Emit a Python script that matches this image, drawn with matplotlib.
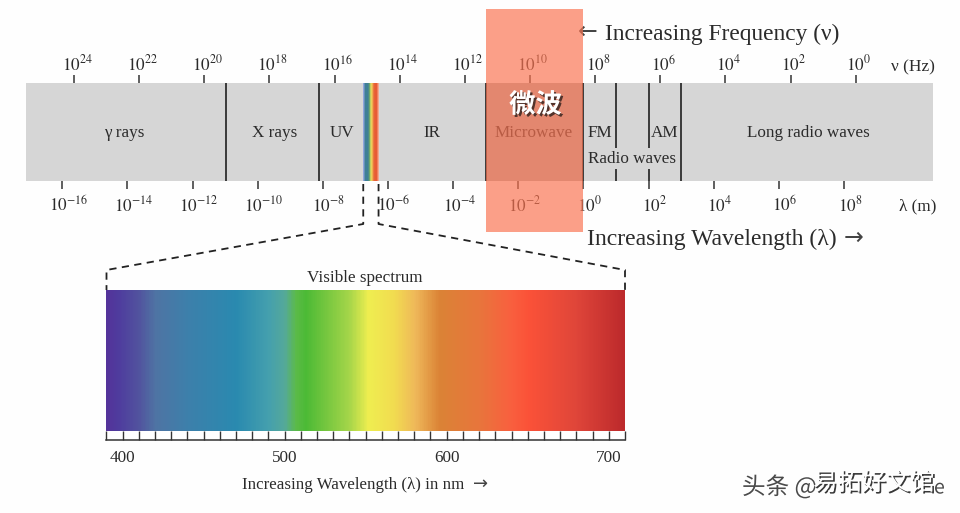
import numpy as np
import matplotlib
matplotlib.use("Agg")
import matplotlib.pyplot as plt
import matplotlib.patheffects as pe
from matplotlib.colors import LinearSegmentedColormap, to_rgb
from matplotlib.patches import Rectangle
from matplotlib.transforms import ScaledTranslation

plt.rcParams["font.family"] = ["Liberation Serif", "DejaVu Serif"]
plt.rcParams["mathtext.fontset"] = "stix"

W, H = 960, 513
TEXT = "#2b2b2b"

# wavelength / frequency scales, log10 units
LAM_TICKS = [-16, -14, -12, -10, -8, -6, -4, -2, 0, 2, 4, 6, 8]
FREQ_TICKS = [24, 22, 20, 18, 16, 14, 12, 10, 8, 6, 4, 2, 0]
FREQ_OFFSET = 8.36

# band boundaries in log10(lambda)
FULL_BOUNDS = [-10.97, -8.13, -3.0, 0.0, 3.0]
BROKEN_BOUNDS = [1.0, 2.0]
MICROWAVE = [-3.0, 0.0]

BAND_NAMES = ["γ rays", "X rays", "UV", "IR", "Microwave", "FM", "AM", "Long radio waves", "Radio waves"]
BAND_POS = [-14.1, -9.48, -7.4, -4.65, -1.52, 0.51, 2.5, 6.9, 1.49]
BAND_ROW = [0.51, 0.51, 0.51, 0.51, 0.51, 0.51, 0.51, 0.51, 0.77]

MINI_RANGE = [-6.76, -6.29]
MINI_COLORS = ["#8fa5dc", "#3f7f97", "#3f7f97", "#3f7f97", "#6fa868", "#e8e060",
               "#f0b050", "#e8683a", "#e85c34", "#e85c34", "#f5a890"]

# visible spectrum
SPEC_NM = [390, 397, 410, 420, 440, 470, 490, 500, 507, 513, 540, 552, 568, 581, 596, 620, 640, 651, 680, 710]
SPEC_COLORS = ["#54339a", "#4f3c9e", "#52549f", "#4f74a4", "#3d80ab", "#2a8ab0", "#45a0ae", "#55a99a",
               "#5cbb48", "#4cba36", "#a6d64a", "#efee50", "#f2dc50", "#efb85a", "#db8336", "#e8763c",
               "#f9603f", "#fb5238", "#e0463a", "#bd2a2c"]
SPEC_MINOR = list(range(390, 711, 10))
SPEC_MAJOR = [400, 500, 600, 700]


def lam_px(e):
    return 62.3 + (e + 16) * 32.57


def frame(x0, y0, x1, y1):
    return [x0 / W, 1 - y1 / H, (x1 - x0) / W, (y1 - y0) / H]


def shift_labels(axis, fig, dx, dy):
    off = ScaledTranslation(dx / fig.dpi, dy / fig.dpi, fig.dpi_scale_trans)
    for lab in axis.get_ticklabels():
        lab.set_transform(lab.get_transform() + off)


fig = plt.figure(figsize=(W / 100, H / 100), dpi=100, facecolor="#fefefe")

# main band
ax = fig.add_axes(frame(26, 83, 933, 181.3), zorder=1)
xlim = ((26 - 62.3) / 32.57 - 16, (933 - 62.3) / 32.57 - 16)
ax.set_facecolor("#d6d6d6")
for s in ax.spines.values():
    s.set_visible(False)
ax.set_yticks([])
ax.set_xticks(LAM_TICKS)
ax.set_xticklabels([f"$10^{{{e}}}$" for e in LAM_TICKS], fontsize=12.3, color=TEXT)
ax.tick_params(axis="x", length=6, width=1.1, color="#333333", pad=4)
shift_labels(ax.xaxis, fig, 6, 0)

ax.axvspan(MICROWAVE[0], MICROWAVE[1], color="#b2b2b2", lw=0, zorder=0.5)
ax.vlines(FULL_BOUNDS, 0, 1, color="#2e2e2e", lw=1.3)
ax.vlines(BROKEN_BOUNDS, 0, 0.66, color="#2e2e2e", lw=1.3)
ax.vlines(BROKEN_BOUNDS, 0.87, 1, color="#2e2e2e", lw=1.3)

ax.imshow([[to_rgb(c) for c in MINI_COLORS]], extent=[MINI_RANGE[0], MINI_RANGE[1], 1, 0],
          aspect="auto", interpolation="bilinear", zorder=2)
ax.set_xlim(*xlim)
ax.set_ylim(1, 0)

top = ax.secondary_xaxis("top", functions=(lambda l: FREQ_OFFSET - l, lambda n: FREQ_OFFSET - n))
top.set_xticks(FREQ_TICKS)
top.set_xticklabels([f"$10^{{{e}}}$" for e in FREQ_TICKS], fontsize=12.3, color=TEXT)
top.tick_params(axis="x", length=6, width=1.1, color="#333333", pad=0)
top.spines["top"].set_visible(False)
shift_labels(top.xaxis, fig, 3, 0)

for name, pos, row in zip(BAND_NAMES, BAND_POS, BAND_ROW):
    ax.text(pos, row, name, ha="center", va="center", fontsize=12.3, color=TEXT, zorder=3)

# visible spectrum strip with ruler under it
sp = fig.add_axes(frame(106.3, 290, 625, 440), zorder=1)
cmap = LinearSegmentedColormap.from_list(
    "spec", [((n - SPEC_NM[0]) / (SPEC_NM[-1] - SPEC_NM[0]), c) for n, c in zip(SPEC_NM, SPEC_COLORS)])
sp.imshow(np.linspace(0, 1, 640)[None, :], cmap=cmap, aspect="auto", interpolation="bilinear",
          extent=[SPEC_NM[0], SPEC_NM[-1], 0.06, 1])
sp.set_xlim(SPEC_NM[0], SPEC_NM[-1])
sp.set_ylim(0, 1)
for side in ["top", "left", "right"]:
    sp.spines[side].set_visible(False)
sp.spines["bottom"].set_linewidth(1.1)
sp.spines["bottom"].set_color("#333333")
sp.set_yticks([])
sp.set_xticks(SPEC_MINOR, minor=True)
sp.set_xticks(SPEC_MAJOR)
sp.set_xticklabels([str(n) for n in SPEC_MAJOR], fontsize=12.3, color=TEXT)
sp.tick_params(axis="x", which="both", direction="in", length=6.5, width=1.0, color="#333333", pad=7)

# pixel overlay for the annotations
ov = fig.add_axes([0, 0, 1, 1], zorder=2)
ov.set_xlim(0, W)
ov.set_ylim(H, 0)
ov.axis("off")
ov.patch.set_alpha(0)

dash = dict(color="#222222", lw=1.3, ls=(0, (4, 3)))
ov.plot([lam_px(MINI_RANGE[0])] * 2 + [106.5, 106.5], [184, 224, 270, 290], **dash)
ov.plot([lam_px(MINI_RANGE[1])] * 2 + [625, 625], [184, 224, 270, 290], **dash)

arrow_font = ["DejaVu Sans"]
ov.text(605, 34.5, "Increasing Frequency (ν)", fontsize=16.8, color=TEXT, va="center")
ov.text(587, 239.5, "Increasing Wavelength (λ)", fontsize=17, color=TEXT, va="center")
ov.text(863, 238, "→", fontsize=17, family=arrow_font, color="#444444", ha="right", va="center")
ov.text(578, 32, "←", fontsize=17, family=arrow_font, color="#444444", va="center")
ov.text(913, 67, "ν (Hz)", fontsize=12.5, color=TEXT, ha="center", va="center")
ov.text(918, 206, "λ (m)", fontsize=12.3, color=TEXT, ha="center", va="center")
ov.text(365, 278, "Visible spectrum", fontsize=12.3, color=TEXT, ha="center", va="center")
ov.text(242, 485, "Increasing Wavelength (λ) in nm", fontsize=12.2, color=TEXT, va="center")
ov.text(488, 484, "→", fontsize=13, family=arrow_font, color="#444444", ha="right", va="center")

# highlighted microwave region
x0, x1 = lam_px(MICROWAVE[0]), lam_px(MICROWAVE[1])
ov.add_patch(Rectangle((x0, 9), x1 - x0, 223, facecolor="#fb7350", alpha=0.68, edgecolor="none", zorder=5))

cjk = ["Noto Sans CJK SC", "DejaVu Sans"]
ov.text(535.5, 105, "微波", fontsize=19, family=cjk, weight="bold", color="white", ha="center", va="center", zorder=6,
        path_effects=[pe.withSimplePatchShadow(offset=(1.5, -1.5), shadow_rgbFace="#4a2f28", alpha=0.95)])

# watermark
under = [pe.withStroke(linewidth=2, foreground="#ffffff")]
over = [pe.withSimplePatchShadow(offset=(1.2, -1.2), shadow_rgbFace="#222222", alpha=0.9)]
ov.text(742, 487, "头条 @", fontsize=17, family=cjk, color="#4a4a4a", va="center", zorder=6, path_effects=under)
ov.text(934, 488, "e", fontsize=14, family=cjk, color="#4a4a4a", va="center", zorder=6, path_effects=under)
ov.text(813, 483, "易拓好文馆", fontsize=17.5, family=cjk, color="#ffffff", va="center", zorder=7, path_effects=over)

fig.savefig("out.png", dpi=100, facecolor=fig.get_facecolor())
